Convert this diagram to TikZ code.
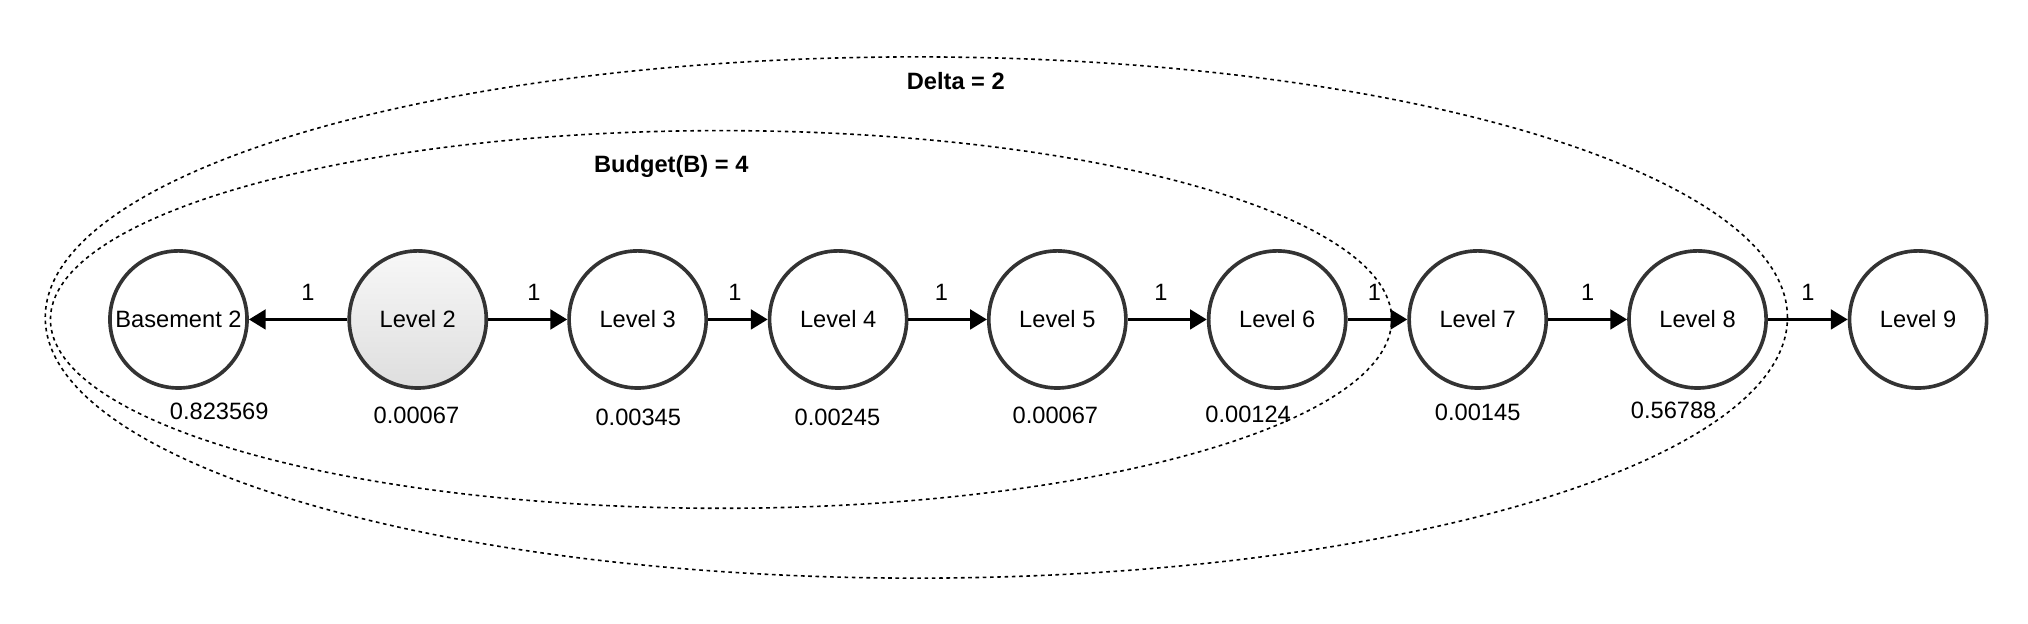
\documentclass[tikz,border=0pt]{standalone}
\usepackage{fontspec}
\setmainfont{Liberation Sans}
\usetikzlibrary{arrows.meta}

\begin{document}
\begin{tikzpicture}[
  font=\fontsize{10.4}{12.5}\selectfont,
  level/.style={circle, draw=black!80, fill=white, line width=1.6pt, minimum size=2.12cm, inner sep=0pt},
  start/.style={level, top color=black!3, bottom color=black!13},
  hop/.style={line width=1.6pt, -{Triangle[length=0.26cm, width=0.3cm]}},
  weight/.style={midway, above=4pt},
  prob/.style={anchor=center},
  zone/.style={line width=0.7pt, dash pattern=on 1.6pt off 1.6pt},
  title/.style={font=\fontsize{10.4}{12.5}\selectfont\bfseries}
] % 1cm = 50px of the reduced view

\useasboundingbox (0,0) rectangle (31.36,9.64);

% dotted ranges
\draw[zone] (14.17,4.73) ellipse (13.47 and 4.03);
\draw[zone] (11.15,4.70) ellipse (10.37 and 2.92);
\node[title] (delta) at (14.78,8.39) {Delta = 2};
\node[title] (budget) at (10.38,7.06) {Budget(B) = 4};

% floors
\node[level] (b2) at (2.76,4.70) {Basement 2};
\node[start] (l2) at (6.46,4.70) {Level 2};
\node[level] (l3) at (9.86,4.70) {Level 3};
\node[level] (l4) at (12.96,4.70) {Level 4};
\node[level] (l5) at (16.35,4.70) {Level 5};
\node[level] (l6) at (19.75,4.70) {Level 6};
\node[level] (l7) at (22.85,4.70) {Level 7};
\node[level] (l8) at (26.25,4.70) {Level 8};
\node[level] (l9) at (29.66,4.70) {Level 9};

% moves
\draw[hop] (l2) -- (b2) node[weight, pos=0.4] (w1) {1};
\draw[hop] (l2) -- (l3) node[weight, pos=0.58] (w2) {1};
\draw[hop] (l3) -- (l4) node[weight, pos=0.45] (w3) {1};
\draw[hop] (l4) -- (l5) node[weight, pos=0.42] (w4) {1};
\draw[hop] (l5) -- (l6) node[weight, pos=0.42] (w5) {1};
\draw[hop] (l6) -- (l7) node[weight, pos=0.45] (w6) {1};
\draw[hop] (l7) -- (l8) node[weight] (w7) {1};
\draw[hop] (l8) -- (l9) node[weight] (w8) {1};

% probabilities
\node[prob] (p1) at (3.39,3.28) {0.823569};
\node[prob] (p2) at (6.44,3.21) {0.00067};
\node[prob] (p3) at (9.87,3.19) {0.00345};
\node[prob] (p4) at (12.95,3.19) {0.00245};
\node[prob] (p5) at (16.32,3.22) {0.00067};
\node[prob] (p6) at (19.30,3.24) {0.00124};
\node[prob] (p7) at (22.85,3.26) {0.00145};
\node[prob] (p8) at (25.88,3.30) {0.56788};

\end{tikzpicture}
\end{document}
